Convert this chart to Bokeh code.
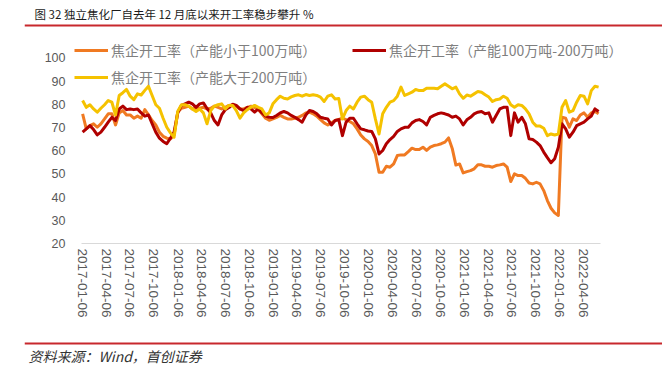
import pandas as pd
from datetime import datetime
from bokeh.plotting import figure
from bokeh.models import (Range1d, FixedTicker, DatetimeTickFormatter, Legend, LegendItem,
                          Span, Label, ColumnDataSource)
from bokeh.layouts import column
from bokeh.embed import file_html
from bokeh.resources import INLINE

# ---------------- data ----------------
title_text = "图 32 独立焦化厂自去年 12 月底以来开工率稳步攀升 %"
source_text = "资料来源：Wind，首创证券"
series_names = ["焦企开工率（产能小于100万吨）",
                "焦企开工率（产能100万吨-200万吨）",
                "焦企开工率（产能大于200万吨）"]
start_date = "2017-01-06"
step = "14D"

small = [75.9, 69.4, 70.8, 71.6, 70.1, 71.6, 73.7, 75.9, 75.9, 71.1,
         76.3, 77.3, 75.4, 75.4, 74.0, 74.9, 74.0, 77.7, 75.4, 73.0,
         71.1, 68.0, 66.2, 65.4, 65.1, 66.8, 76.6, 78.3, 78.7, 79.2,
         78.0, 78.3, 78.3, 78.7, 78.0, 78.3, 79.2, 78.7, 78.0, 78.7,
         79.5, 79.8, 79.2, 78.0, 78.0, 78.7, 79.2, 78.6, 77.7, 75.9,
         74.0, 73.1, 73.7, 74.4, 75.2, 74.4, 73.7, 73.7, 74.0, 74.4,
         75.2, 76.3, 76.6, 75.9, 74.9, 73.4, 72.0, 71.1, 72.0, 73.0,
         73.5, 74.0, 73.4, 72.6, 71.6, 69.4, 66.8, 65.1, 64.0, 62.2,
         58.6, 50.7, 50.7, 53.3, 52.9, 54.3, 57.9, 58.2, 58.2, 59.6,
         61.1, 60.5, 60.5, 61.5, 60.1, 61.5, 62.2, 62.5, 63.0, 63.7,
         65.5, 61.0, 53.8, 54.3, 50.4, 51.0, 51.4, 52.2, 53.9, 53.9,
         53.3, 53.3, 52.9, 53.6, 53.9, 54.3, 52.9, 46.7, 50.0, 49.3,
         49.3, 48.1, 46.1, 45.7, 46.4, 45.7, 42.8, 38.5, 35.2, 33.2,
         32.1, 74.4, 74.0, 70.1, 73.7, 73.0, 75.4, 76.3, 74.4, 76.3,
         76.9, 75.9]

mid = [68.0, 69.4, 70.8, 69.1, 66.8, 68.0, 70.1, 72.3, 74.4, 73.0,
       78.0, 79.2, 77.7, 78.0, 77.7, 78.0, 76.3, 74.9, 75.4, 71.6,
       68.0, 65.4, 64.0, 63.0, 65.4, 68.0, 76.3, 79.5, 80.2, 80.9,
       80.2, 78.7, 80.2, 80.6, 78.2, 76.3, 73.0, 71.1, 75.4, 77.7,
       78.6, 80.0, 79.5, 78.0, 77.3, 78.7, 78.0, 76.6, 78.0, 76.3,
       74.9, 74.4, 74.3, 75.2, 76.3, 76.9, 76.3, 75.2, 74.4, 73.4,
       72.3, 75.4, 77.3, 76.9, 75.9, 74.4, 74.0, 73.7, 71.1, 73.0,
       73.4, 66.5, 72.3, 74.0, 74.0, 71.6, 69.4, 69.0, 68.5, 68.3,
       65.1, 58.6, 60.1, 63.0, 64.8, 66.2, 68.3, 69.4, 70.1, 70.1,
       72.0, 73.0, 73.4, 72.6, 71.1, 74.4, 75.2, 75.9, 76.3, 75.9,
       75.4, 74.4, 74.9, 73.7, 71.1, 73.3, 74.4, 75.9, 76.6, 76.9,
       75.9, 76.3, 72.3, 75.2, 78.0, 78.7, 78.7, 66.5, 76.3, 72.3,
       74.4, 71.6, 65.1, 64.8, 63.7, 62.2, 59.4, 57.0, 54.8, 56.5,
       61.5, 71.6, 69.4, 65.8, 68.0, 70.8, 71.6, 72.3, 73.7, 74.9,
       78.0, 76.9]

large = [81.6, 78.7, 79.8, 78.0, 76.6, 78.3, 79.8, 81.6, 80.9, 75.4,
         83.8, 85.0, 86.4, 83.5, 82.0, 84.5, 84.0, 86.0, 87.8, 83.8,
         79.8, 78.3, 74.0, 70.1, 67.7, 65.8, 77.0, 79.8, 79.8, 79.2,
         78.0, 76.9, 78.0, 76.3, 71.6, 77.3, 79.2, 79.8, 80.2, 78.0,
         79.5, 79.5, 77.3, 74.0, 76.3, 77.7, 78.7, 79.5, 78.7, 78.0,
         75.4, 76.3, 80.2, 82.0, 83.5, 82.6, 82.3, 83.2, 83.8, 84.1,
         83.5, 84.2, 83.8, 84.1, 83.8, 83.1, 81.2, 83.5, 84.1, 82.3,
         82.5, 73.7, 77.3, 79.2, 78.0, 80.9, 83.1, 83.5, 82.0, 80.9,
         73.7, 67.2, 75.9, 78.7, 80.9, 81.6, 83.5, 87.4, 83.8, 84.5,
         85.2, 86.4, 85.9, 85.9, 86.9, 86.9, 86.9, 86.7, 87.8, 88.8,
         87.8, 86.7, 87.4, 84.5, 82.6, 84.0, 83.5, 84.5, 85.5, 85.2,
         84.1, 83.1, 81.2, 82.0, 82.3, 83.5, 82.6, 79.8, 78.7, 79.8,
         79.5, 78.0, 75.9, 72.3, 70.6, 70.6, 69.7, 66.5, 67.2, 66.8,
         67.2, 78.7, 81.6, 76.6, 77.3, 80.9, 83.8, 83.5, 80.2, 85.9,
         87.8, 87.4]

x_tick_labels = ["2017-01-06", "2017-04-06", "2017-07-06", "2017-10-06",
                 "2018-01-06", "2018-04-06", "2018-07-06", "2018-10-06",
                 "2019-01-06", "2019-04-06", "2019-07-06", "2019-10-06",
                 "2020-01-06", "2020-04-06", "2020-07-06", "2020-10-06",
                 "2021-01-06", "2021-04-06", "2021-07-06", "2021-10-06",
                 "2022-01-06", "2022-04-06"]
y_ticks = [20, 30, 40, 50, 60, 70, 80, 90, 100]

colors = ["#F07A22", "#B00000", "#F5C200"]

# ---------------- figures ----------------
W = 662
dates = pd.date_range(start_date, periods=len(small), freq=step)
src = ColumnDataSource(dict(date=dates, small=small, mid=mid, large=large))

# header
HH = 30
head = figure(width=W, height=HH, x_range=Range1d(0, W - 24), y_range=Range1d(0, HH),
              x_axis_location=None, y_axis_location=None, output_backend="svg",
              toolbar_location=None, min_border_left=24, min_border_right=0,
              min_border_top=0, min_border_bottom=0, frame_align=False)
head.grid.visible = False
head.outline_line_color = None
head.add_layout(Label(x=10, y=17, text=title_text, text_font="Noto Sans CJK SC",
                      text_font_size="11.5px", text_color="#1a1a1a", text_baseline="middle"))
head.add_layout(Span(location=5, dimension="width", line_color="#C8282D", line_width=2))

# main chart (frame is wider than the axis line so the legend is not clipped)
p = figure(width=W, height=306, x_axis_type="datetime",
           x_range=Range1d(datetime(2016, 12, 6), datetime(2022, 10, 3)),
           y_range=Range1d(20, 107.5), output_backend="svg", toolbar_location=None,
           min_border_left=74, min_border_right=32, min_border_top=10, min_border_bottom=93,
           frame_align=False)
p.grid.visible = False
p.outline_line_color = None

r_small = p.line("date", "small", source=src, color=colors[0], line_width=3, line_join="round")
r_mid = p.line("date", "mid", source=src, color=colors[1], line_width=3, line_join="round")
r_large = p.line("date", "large", source=src, color=colors[2], line_width=3, line_join="round")

xt = [pd.Timestamp(s).value // 10**6 for s in x_tick_labels]
p.xaxis.ticker = FixedTicker(ticks=xt)
p.xaxis.bounds = (datetime(2017, 1, 2), datetime(2022, 6, 11))
fmt = "%Y-%m-%d"
p.xaxis.formatter = DatetimeTickFormatter(milliseconds=fmt, seconds=fmt, minsec=fmt, minutes=fmt,
                                          hourmin=fmt, hours=fmt, days=fmt, months=fmt, years=fmt)
p.xaxis.major_label_orientation = "vertical"
p.xaxis.axis_line_color = "#D9D9D9"
p.xaxis.axis_line_width = 1
p.xaxis.major_tick_line_color = None
p.xaxis.minor_tick_line_color = None
p.xaxis.major_tick_out = 0
p.xaxis.major_tick_in = 0
p.xaxis.major_label_standoff = 5
p.xaxis.major_label_text_font = "Liberation Sans"
p.xaxis.major_label_text_font_size = "13.5px"
p.xaxis.major_label_text_color = "#595959"

p.yaxis.ticker = FixedTicker(ticks=y_ticks)
p.yaxis.axis_line_color = None
p.yaxis.major_tick_line_color = None
p.yaxis.minor_tick_line_color = None
p.yaxis.major_tick_out = 0
p.yaxis.major_tick_in = 0
p.yaxis.major_label_standoff = 9
p.yaxis.major_label_text_font = "Liberation Sans"
p.yaxis.major_label_text_font_size = "12.5px"
p.yaxis.major_label_text_color = "#595959"

# legend rows centred at page y 50 and 77; frame spans page y 40..243
leg_style = dict(orientation="vertical", padding=0, margin=0, spacing=7,
                 glyph_width=34, glyph_height=20, label_height=20, label_standoff=3,
                 label_text_font="Noto Sans CJK SC", label_text_font_size="14px",
                 label_text_color="#7F7F7F", border_line_color=None,
                 background_fill_alpha=0)
legA = Legend(items=[LegendItem(label=series_names[0], renderers=[r_small]),
                     LegendItem(label=series_names[2], renderers=[r_large])],
              location=(0, 156), **leg_style)
legB = Legend(items=[LegendItem(label=series_names[1], renderers=[r_mid])],
              location=(278, 183), **leg_style)
p.add_layout(legA)
p.add_layout(legB)

# footer
FH = 28
foot = figure(width=W, height=FH, x_range=Range1d(0, W - 24), y_range=Range1d(0, FH),
              x_axis_location=None, y_axis_location=None, output_backend="svg",
              toolbar_location=None, min_border_left=24, min_border_right=0,
              min_border_top=0, min_border_bottom=0, frame_align=False)
foot.grid.visible = False
foot.outline_line_color = None
foot.add_layout(Span(location=21, dimension="width", line_color="#C8282D", line_width=2))
foot.add_layout(Label(x=4, y=9, text=source_text, text_font="Noto Sans CJK SC",
                      text_font_size="14px", text_font_style="italic", text_color="#333333",
                      text_baseline="middle"))

layout = column(head, p, foot, spacing=0)
open("out.html", "w").write(file_html(layout, INLINE))
